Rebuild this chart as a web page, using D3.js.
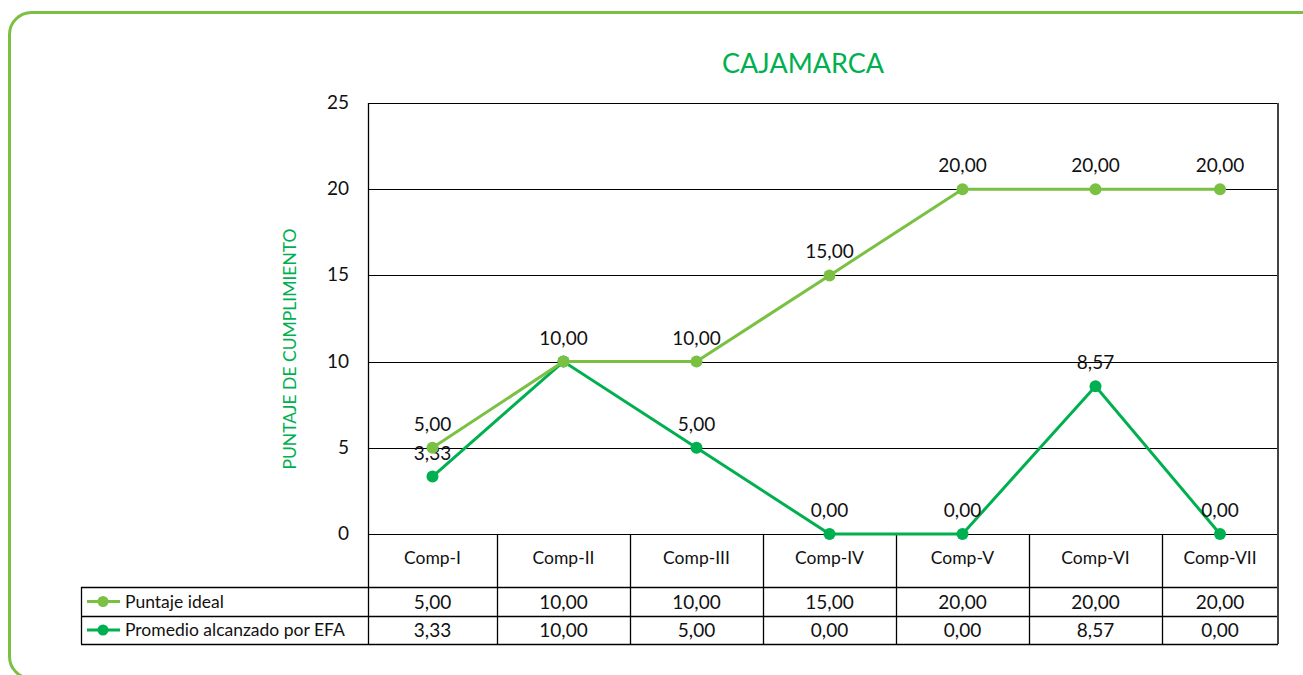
<!DOCTYPE html>
<html>
<head>
<meta charset="utf-8">
<script src="https://cdn.jsdelivr.net/npm/d3@7"></script>
<style>
  body { margin: 0; background: #fff; }
  svg text { font-family: Lato, "Noto Sans", sans-serif; fill: #111; }
</style>
</head>
<body>
<div id="chart"></div>
<script>
// chart data
var categories = ["Comp-I", "Comp-II", "Comp-III", "Comp-IV", "Comp-V", "Comp-VI", "Comp-VII"];
var seriesNames = ["Puntaje ideal", "Promedio alcanzado por EFA"];
var puntajeIdeal = [5.00, 10.00, 10.00, 15.00, 20.00, 20.00, 20.00];
var promedioEFA = [3.33, 10.00, 5.00, 0.00, 0.00, 8.57, 0.00];
var yTicks = [0, 5, 10, 15, 20, 25];

var W = 1303, H = 675;
var lightGreen = "#7ac143", darkGreen = "#00b050";

var plot = { left: 368, right: 1278, top: 103, bottom: 534 };
var rowH = [53, 29, 28];   // header, series 1, series 2
var tableLeft = 81;

var fmt = function(v) { return v.toFixed(2).replace(".", ","); };

var svg = d3.select("#chart").append("svg")
    .attr("width", W)
    .attr("height", H);

// outer frame
svg.append("rect")
    .attr("x", 9.5).attr("y", 12.5)
    .attr("width", 1400).attr("height", 666)
    .attr("rx", 22)
    .attr("fill", "none")
    .attr("stroke", lightGreen)
    .attr("stroke-width", 3);

// scales
var x = d3.scaleBand()
    .domain(categories)
    .range([364, 364 + 133 * categories.length]);

var y = d3.scaleLinear()
    .domain([0, 25])
    .range([plot.bottom, plot.top]);

// cell edges clipped to the plot area
function cellLeft(c) { return Math.max(plot.left, x(c)); }
function cellRight(c) { return Math.min(plot.right, x(c) + x.bandwidth()); }
function cx(c) { return (cellLeft(c) + cellRight(c)) / 2; }

// title
svg.append("text")
    .attr("x", 803).attr("y", 73)
    .attr("text-anchor", "middle")
    .style("font-size", "27px")
    .style("fill", darkGreen)
    .text("CAJAMARCA");

// y label
svg.append("text")
    .attr("transform", "translate(296,349) rotate(-90)")
    .attr("text-anchor", "middle")
    .style("font-size", "17.5px")
    .style("fill", darkGreen)
    .text("PUNTAJE DE CUMPLIMIENTO");

// gridlines + tick labels
svg.append("g").selectAll("line")
    .data(yTicks)
    .enter().append("line")
    .attr("x1", plot.left).attr("x2", plot.right)
    .attr("y1", function(d) { return Math.round(y(d)) + 0.5; })
    .attr("y2", function(d) { return Math.round(y(d)) + 0.5; })
    .attr("stroke", "#000")
    .attr("stroke-width", 1);

svg.append("g").selectAll("text")
    .data(yTicks)
    .enter().append("text")
    .attr("x", 349)
    .attr("y", function(d) { return y(d) + 6; })
    .attr("text-anchor", "end")
    .style("font-size", "19px")
    .text(function(d) { return d; });

// table
var tTop = plot.bottom;
var r1 = tTop + rowH[0], r2 = r1 + rowH[1], tBottom = r2 + rowH[2];

var table = svg.append("g").attr("class", "table");

[r1, r2, tBottom].forEach(function(yy) {
    table.append("line")
        .attr("x1", tableLeft).attr("x2", plot.right)
        .attr("y1", yy + 0.5).attr("y2", yy + 0.5)
        .attr("stroke", "#000").attr("stroke-width", 1.3);
});
table.append("line")
    .attr("x1", tableLeft + 0.5).attr("x2", tableLeft + 0.5)
    .attr("y1", r1).attr("y2", tBottom)
    .attr("stroke", "#000").attr("stroke-width", 1.3);

// vertical cell separators (and plot borders)
var edges = categories.slice(1).map(function(c) { return x(c); });
table.selectAll("line.sep")
    .data(edges)
    .enter().append("line")
    .attr("class", "sep")
    .attr("x1", function(d) { return d + 0.5; })
    .attr("x2", function(d) { return d + 0.5; })
    .attr("y1", tTop).attr("y2", tBottom)
    .attr("stroke", "#000").attr("stroke-width", 1.3);

svg.append("line")
    .attr("x1", plot.left + 0.5).attr("x2", plot.left + 0.5)
    .attr("y1", plot.top).attr("y2", tBottom)
    .attr("stroke", "#000").attr("stroke-width", 1.3);
svg.append("line")
    .attr("x1", plot.right).attr("x2", plot.right)
    .attr("y1", plot.top).attr("y2", tBottom)
    .attr("stroke", "#444").attr("stroke-width", 2);

// category labels
table.selectAll("text.cat")
    .data(categories)
    .enter().append("text")
    .attr("class", "cat")
    .attr("x", function(d) { return cx(d); })
    .attr("y", tTop + 30)
    .attr("text-anchor", "middle")
    .style("font-size", "17.5px")
    .text(function(d) { return d; });

// table values
var rows = [
    { name: seriesNames[0], values: puntajeIdeal, color: lightGreen, top: r1, h: rowH[1] },
    { name: seriesNames[1], values: promedioEFA, color: darkGreen, top: r2, h: rowH[2] }
];

rows.forEach(function(row) {
    var mid = row.top + row.h / 2;
    table.selectAll(null)
        .data(row.values)
        .enter().append("text")
        .attr("x", function(d, i) { return cx(categories[i]); })
        .attr("y", mid + 7)
        .attr("text-anchor", "middle")
        .style("font-size", "19px")
        .text(function(d) { return fmt(d); });

    // legend key
    table.append("line")
        .attr("x1", 87).attr("x2", 120)
        .attr("y1", mid).attr("y2", mid)
        .attr("stroke", row.color).attr("stroke-width", 3);
    table.append("circle")
        .attr("cx", 103).attr("cy", mid).attr("r", 5.5)
        .attr("fill", row.color);
    table.append("text")
        .attr("x", 125).attr("y", mid + 6)
        .style("font-size", "17.5px")
        .text(row.name);
});

// series lines, drawn bottom series first
var line = d3.line()
    .x(function(d, i) { return cx(categories[i]); })
    .y(function(d) { return y(d); });

[rows[1], rows[0]].forEach(function(row, k) {
    var g = svg.append("g");
    g.append("path")
        .datum(row.values)
        .attr("d", line)
        .attr("fill", "none")
        .attr("stroke", row.color)
        .attr("stroke-width", 3);
    g.selectAll("circle")
        .data(row.values)
        .enter().append("circle")
        .attr("cx", function(d, i) { return cx(categories[i]); })
        .attr("cy", function(d) { return y(d); })
        .attr("r", 6)
        .attr("fill", row.color);

    // skip a label that sits exactly under the other series' label
    var labels = row.values
        .map(function(v, i) { return { v: v, i: i }; })
        .filter(function(d) { return k == 1 || d.v !== puntajeIdeal[d.i]; });

    g.selectAll("text")
        .data(labels)
        .enter().append("text")
        .attr("x", function(d) { return cx(categories[d.i]); })
        .attr("y", function(d) { return y(d.v) - 17; })
        .attr("text-anchor", "middle")
        .style("font-size", "19px")
        .text(function(d) { return fmt(d.v); });
});
</script>
</body>
</html>
